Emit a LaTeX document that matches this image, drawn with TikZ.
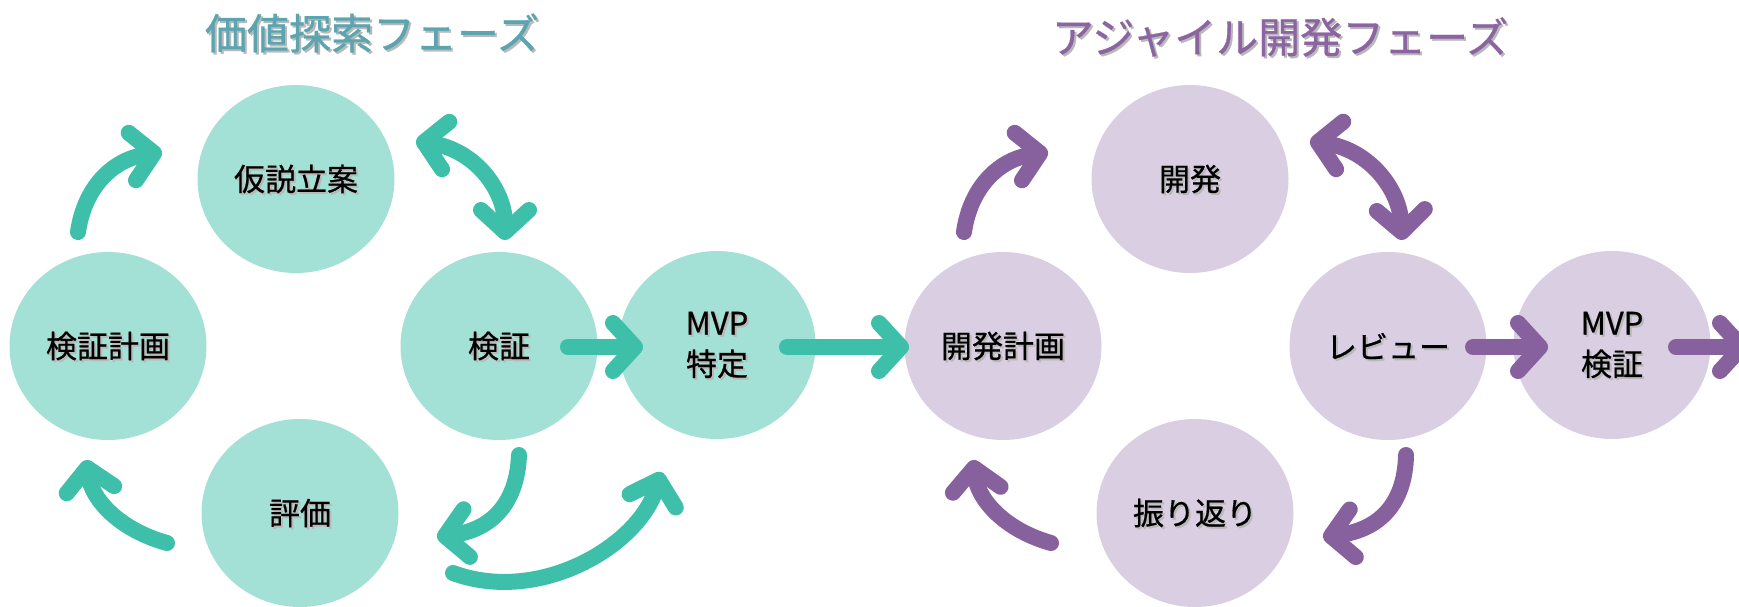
\documentclass[tikz,border=0pt]{standalone}
\usepackage{fontspec}
\setmainfont{Noto Sans CJK JP}
\newfontfamily\heavyjp{Noto Sans CJK JP}[FakeBold=0.6]
\usetikzlibrary{shapes.geometric,arrows.meta}
\definecolor{tfill}{HTML}{A3E0D5}
\definecolor{pfill}{HTML}{DACEE2}
\definecolor{tarrow}{HTML}{3EBFAA}
\definecolor{parrow}{HTML}{87609E}
\definecolor{ttitle}{HTML}{5AA5B0}
\definecolor{ptitle}{HTML}{8C64A2}
\newcommand\shtxt[2][gray!55]{\leavevmode\rlap{\hspace{2pt}\raisebox{-2pt}[0pt][0pt]{\textcolor{#1}{#2}}}#2}
\tikzset{
 bub/.style={ellipse, minimum width=197pt, minimum height=188pt, inner sep=0pt,
   font=\heavyjp\fontsize{31}{41}\selectfont, align=center, text=black},
 tb/.style={bub, fill=tfill},
 pb/.style={bub, fill=pfill},
 flow/.style={line width=16pt, line cap=round,
   >={Straight Barb[length=22pt,width=48pt,round]}},
 tf/.style={flow, draw=tarrow},
 pf/.style={flow, draw=parrow},
 ttl/.style={font=\heavyjp\fontsize{42}{50}\selectfont, inner sep=0pt}
}
\begin{document}
\begin{tikzpicture}[x=1pt,y=-1pt]
\useasboundingbox (0,0) rectangle (1739,606);
% titles
\node[ttl, text=ttitle] (t1) at (372,33) {\shtxt{価値探索フェーズ}};
\node[ttl, text=ptitle] (t2) at (1280,37) {\shtxt{アジャイル開発フェーズ}};
% teal nodes
\node[tb] (hyp) at (296,179) {\shtxt{仮説立案}};
\node[tb] (vplan) at (108,346) {\shtxt{検証計画}};
\node[tb] (ver) at (499,346) {\shtxt{検証}};
\node[tb] (mvp1) at (717,345) {\shtxt{MVP}\\\shtxt{特定}};
\node[tb] (eval) at (300,513) {\shtxt{評価}};
% purple nodes
\node[pb] (dplan) at (1003,346) {\shtxt{開発計画}};
\node[pb] (dev) at (1190,179) {\shtxt{開発}};
\node[pb] (rev) at (1388,346) {\shtxt{レビュー}};
\node[pb] (mvp2) at (1612,345) {\shtxt{MVP}\\\shtxt{検証}};
\node[pb] (retro) at (1195,513) {\shtxt{振り返り}};
% arrow end coordinates
\coordinate (a1s) at (78,232);   \coordinate (a1e) at (162,152);
\coordinate (a2s) at (416,141);  \coordinate (a2e) at (505,240);
\coordinate (a3s) at (568,347);  \coordinate (a3e) at (643,347);
\coordinate (a4s) at (787,347);  \coordinate (a4e) at (909,347);
\coordinate (a5s) at (519,455);  \coordinate (a5e) at (437,537);
\coordinate (a6s) at (453,573);  \coordinate (a6e) at (661,472);
\coordinate (a7s) at (167,543);  \coordinate (a7e) at (86,460);
\coordinate (p8s) at (964,232);  \coordinate (p8e) at (1048,152);
\coordinate (p9s) at (1310,141); \coordinate (p9e) at (1402,240);
\coordinate (p10s) at (1473,347); \coordinate (p10e) at (1548,347);
\coordinate (p11s) at (1676,347); \coordinate (p11e) at (1750,347);
\coordinate (p12s) at (1406,455); \coordinate (p12e) at (1323,537);
\coordinate (p13s) at (1051,543); \coordinate (p13e) at (973,460);
% teal arrows
\draw[tf,->] (a1s) .. controls (84,190) and (110,160) .. (a1e);
\draw[tf,<->] (a2s) .. controls (475,150) and (505,190) .. (a2e);
\draw[tf,->] (a3s) -- (a3e);
\draw[tf,->] (a4s) -- (a4e);
\draw[tf,->] (a5s) .. controls (517,505) and (490,530) .. (a5e);
\draw[tf,->] (a6s) .. controls (540,605) and (640,545) .. (a6e);
\draw[tf,->] (a7s) .. controls (120,530) and (92,500) .. (a7e);
% purple arrows
\draw[pf,->] (p8s) .. controls (970,190) and (996,160) .. (p8e);
\draw[pf,<->] (p9s) .. controls (1370,150) and (1400,190) .. (p9e);
\draw[pf,->] (p10s) -- (p10e);
\draw[pf,->] (p11s) -- (p11e);
\draw[pf,->] (p12s) .. controls (1405,505) and (1378,530) .. (p12e);
\draw[pf,->] (p13s) .. controls (1005,530) and (978,500) .. (p13e);
\end{tikzpicture}
\end{document}
